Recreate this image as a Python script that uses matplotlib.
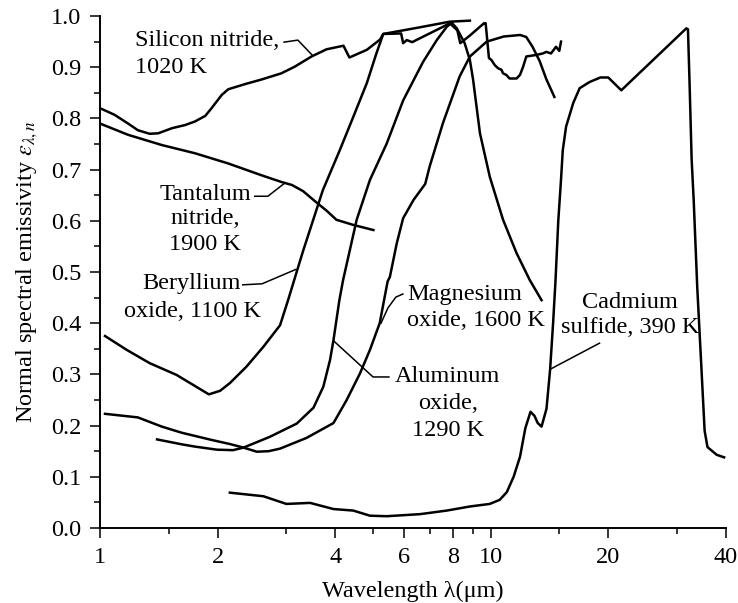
import matplotlib
matplotlib.use("Agg")
import matplotlib.pyplot as plt
from matplotlib.ticker import FixedLocator, NullFormatter, FixedFormatter

plt.rcParams['font.family'] = ['Liberation Serif', 'DejaVu Serif']
plt.rcParams['mathtext.fontset'] = 'stix'
FS = 17.5

# Silicon nitride, 1020 K
sin_wl = [1.0, 1.09, 1.18, 1.25, 1.34, 1.41, 1.53, 1.65, 1.75, 1.86, 1.93, 2.05, 2.13,
          2.35, 2.59, 2.91, 3.15, 3.48, 3.80, 4.20, 4.35, 4.82, 5.21, 5.31, 5.90, 5.97,
          6.10, 6.30, 6.45, 7.55, 7.86, 8.22, 8.36, 8.85, 9.62, 9.71, 9.90, 10.05, 10.25,
          10.45, 10.66, 10.76, 10.97, 11.18, 11.65, 11.89, 12.11, 12.34, 13.09, 13.61,
          13.88, 14.28, 14.70, 14.99, 15.14]
sin_em = [0.820, 0.807, 0.790, 0.777, 0.770, 0.771, 0.781, 0.787, 0.794, 0.805, 0.820,
          0.846, 0.857, 0.867, 0.876, 0.888, 0.901, 0.921, 0.935, 0.942, 0.919, 0.934,
          0.954, 0.965, 0.966, 0.947, 0.953, 0.949, 0.953, 0.979, 0.986, 0.972, 0.947,
          0.962, 0.986, 0.986, 0.918, 0.914, 0.904, 0.898, 0.895, 0.888, 0.885, 0.878,
          0.878, 0.885, 0.901, 0.921, 0.924, 0.927, 0.930, 0.927, 0.940, 0.932, 0.950]

# Tantalum nitride, 1900 K
tan_wl = [1.0, 1.18, 1.44, 1.75, 2.13, 2.59, 2.91, 3.10, 3.31, 3.58, 3.80, 4.03, 4.45, 5.01]
tan_em = [0.790, 0.768, 0.748, 0.732, 0.712, 0.689, 0.676, 0.670, 0.658, 0.636, 0.620,
          0.602, 0.592, 0.582]

# Beryllium oxide, 1100 K
beo_wl = [1.03, 1.17, 1.34, 1.57, 1.90, 2.03, 2.15, 2.37, 2.62, 2.89, 3.03, 3.31, 3.72,
          4.11, 4.45, 4.82, 5.10, 5.31, 6.59, 7.86, 8.85]
beo_em = [0.375, 0.348, 0.322, 0.299, 0.261, 0.268, 0.283, 0.315, 0.354, 0.396, 0.445,
          0.541, 0.660, 0.738, 0.803, 0.869, 0.927, 0.965, 0.978, 0.989, 0.991]

# Magnesium oxide, 1600 K
mgo_wl = [1.03, 1.25, 1.44, 1.62, 1.93, 2.15, 2.33, 2.52, 2.70, 2.89, 3.38, 3.96, 4.28,
          4.63, 4.91, 5.20, 5.45, 5.52, 5.75, 5.97, 6.35, 6.80, 6.98, 7.55, 8.33, 8.85,
          9.77, 10.8, 11.9, 12.34, 12.8, 13.35, 13.88, 14.56]
mgo_em = [0.223, 0.216, 0.198, 0.186, 0.172, 0.164, 0.157, 0.149, 0.150, 0.155, 0.176,
          0.205, 0.250, 0.302, 0.348, 0.400, 0.482, 0.490, 0.556, 0.605, 0.641, 0.672,
          0.706, 0.791, 0.882, 0.921, 0.950, 0.960, 0.963, 0.959, 0.940, 0.912, 0.877,
          0.842]

# Aluminum oxide, 1290 K
al_wl = [1.40, 1.63, 1.75, 1.99, 2.19, 2.33, 2.72, 3.19, 3.52, 3.73, 3.88, 3.96, 4.10,
         4.19, 4.54, 4.91, 5.42, 5.97, 6.71, 7.28, 7.72, 7.95, 8.19, 8.58, 8.85, 9.02,
         9.39, 9.95, 10.76, 11.65, 12.6, 13.5]
al_em = [0.173, 0.163, 0.159, 0.153, 0.152, 0.157, 0.178, 0.204, 0.235, 0.276, 0.328,
         0.367, 0.445, 0.484, 0.602, 0.680, 0.751, 0.835, 0.910, 0.953, 0.979, 0.987,
         0.976, 0.947, 0.914, 0.875, 0.771, 0.686, 0.602, 0.537, 0.484, 0.445]

# Cadmium sulfide, 390 K
cds_wl = [2.15, 2.62, 3.00, 3.45, 3.96, 4.45, 4.91, 5.42, 6.59, 7.72, 8.85, 9.95, 10.55,
          11.0, 11.45, 11.89, 12.27, 12.65, 12.95, 13.2, 13.5, 13.9, 14.2, 14.45, 14.65,
          14.9, 15.14, 15.3, 15.6, 16.27, 16.9, 17.9, 19.1, 20.0, 21.6, 31.7, 32.0, 32.3,
          32.7, 33.1, 33.8, 34.6, 35.3, 35.9, 37.9, 39.6]
cds_em = [0.069, 0.062, 0.047, 0.049, 0.037, 0.034, 0.024, 0.023, 0.027, 0.034, 0.042,
          0.047, 0.055, 0.070, 0.100, 0.139, 0.195, 0.227, 0.219, 0.205, 0.198, 0.233,
          0.310, 0.400, 0.480, 0.600, 0.680, 0.738, 0.784, 0.830, 0.859, 0.871, 0.880,
          0.880, 0.855, 0.976, 0.974, 0.870, 0.720, 0.640, 0.470, 0.320, 0.190, 0.158,
          0.143, 0.138]

x_major = [1, 2, 4, 6, 8, 10, 20, 40]
x_minor = [1.5, 3, 5, 7, 9, 15, 30]
y_major = [i / 10 for i in range(11)]
y_minor = [i / 20 for i in range(1, 20, 2)]

# labels: (lines, x, y of each line, ha) and leader polylines (wl, em)
labels = [
    (["Silicon nitride,", "1020 K"], 1.229, [0.953, 0.900], 'left'),
    (["Tantalum", "nitride,", "1900 K"], 1.86, [0.652, 0.604, 0.553], 'center'),
    (["Beryllium", "oxide, 1100 K"], 1.72, [0.478, 0.422], 'center'),
    (["Magnesium", "oxide, 1600 K"], 6.11, [0.457, 0.406], 'left'),
    (["Aluminum", "oxide,", "1290 K"], 7.77, [0.295, 0.244, 0.191], 'center'),
    (["Cadmium", "sulfide, 390 K"], 22.7, [0.441, 0.391], 'center'),
]
leaders = [
    ([2.96, 3.21, 3.49], [0.949, 0.953, 0.924]),
    ([2.49, 2.69, 2.975], [0.648, 0.648, 0.674]),
    ([2.32, 2.60, 3.17], [0.475, 0.477, 0.505]),
    ([5.96, 5.72, 5.46, 5.24], [0.457, 0.451, 0.430, 0.400]),
    ([5.49, 5.00, 3.97], [0.295, 0.295, 0.365]),
    ([19.0, 14.2], [0.361, 0.310]),
]

fig = plt.figure(figsize=(7.38, 6.03), dpi=100)
ax = fig.add_axes([0.1355, 0.1244, 0.848, 0.849])

for wl, em in [(sin_wl, sin_em), (tan_wl, tan_em), (beo_wl, beo_em),
               (mgo_wl, mgo_em), (al_wl, al_em), (cds_wl, cds_em)]:
    ax.plot(wl, em, color='black', lw=1.8, solid_joinstyle='round')

for lx, ly in leaders:
    ax.plot(lx, ly, color='black', lw=1.1)

for lines, x, ys, ha in labels:
    for txt, y in zip(lines, ys):
        ax.text(x, y, txt, ha=ha, va='center', fontsize=FS)

ax.set_xscale('log')
ax.set_xlim(1, 40)
ax.set_ylim(0, 1.0)
ax.xaxis.set_major_locator(FixedLocator(x_major))
ax.xaxis.set_major_formatter(FixedFormatter([str(v) for v in x_major]))
ax.xaxis.set_minor_locator(FixedLocator(x_minor))
ax.xaxis.set_minor_formatter(NullFormatter())
ax.yaxis.set_major_locator(FixedLocator(y_major))
ax.yaxis.set_major_formatter(FixedFormatter([f"{v:.1f}" for v in y_major]))
ax.yaxis.set_minor_locator(FixedLocator(y_minor))

for s in ['top', 'right']:
    ax.spines[s].set_visible(False)
for s in ['left', 'bottom']:
    ax.spines[s].set_linewidth(1.4)

ax.tick_params(which='major', direction='out', length=7.5, width=1.1,
               labelsize=FS, pad=6)
ax.tick_params(which='minor', direction='out', length=4.5, width=1.1)

ax.set_xlabel(r"Wavelength λ(μm)", fontsize=FS)
ax.set_ylabel(r"Normal spectral emissivity $\epsilon_{\lambda,n}$", fontsize=FS)
ax.xaxis.set_label_coords(0.5, -0.104)
ax.yaxis.set_label_coords(-0.096, 0.5)

fig.savefig("out.png", dpi=100)
